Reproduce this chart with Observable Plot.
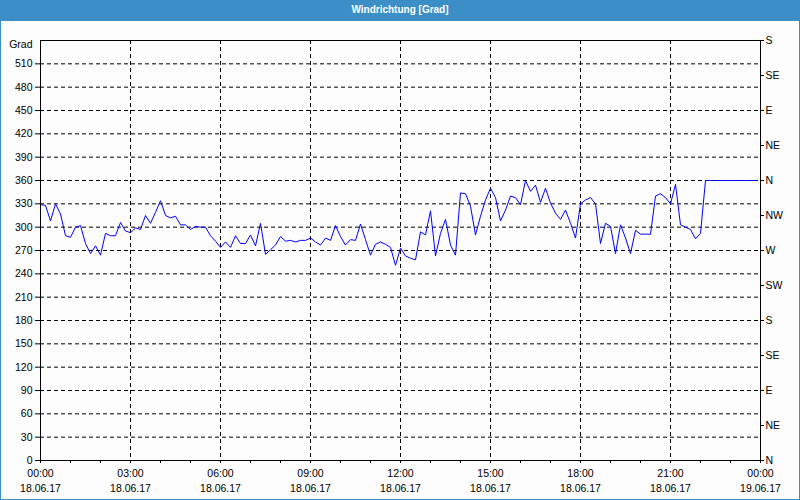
<!DOCTYPE html>
<html>
<head>
<meta charset="utf-8">
<script src="https://cdn.jsdelivr.net/npm/d3@7"></script>
<script src="https://cdn.jsdelivr.net/npm/@observablehq/plot@0.6"></script>
<style>
  html, body { margin: 0; padding: 0; background: #fcfdfc; }
  #wrap { position: relative; width: 800px; height: 500px; overflow: hidden; background: #fcfdfc; }
  #title { position: absolute; left: 0; top: 0; width: 800px; height: 21px; background: #3c8fc6; color: #fff;
    font: bold 10px "Liberation Sans Narrow", "Liberation Sans", sans-serif; text-align: center; line-height: 20px; }
  #chart { position: absolute; left: 0; top: 20px; }
  #border { position: absolute; left: 0; top: 20px; width: 800px; height: 480px; box-sizing: border-box;
    border: 1px solid #3c8fc6; border-top: none; pointer-events: none; }
  svg text { font-family: "Liberation Sans Narrow", "Liberation Sans", sans-serif; }
</style>
</head>
<body>
<div id="wrap">
  <div id="title">Windrichtung [Grad]</div>
  <div id="chart"></div>
  <div id="border"></div>
</div>
<script>
// Wind direction, 10-minute samples starting 18.06.17 00:00
const startTime = Date.UTC(2017, 5, 18, 0, 0);
const stepMinutes = 10;
const directionValues = [
  329,328,308,330,317,289,287,300,302,279,266,276,264,292,289,289,306,295,293,
  299,297,315,305,319,334,315,312,314,303,303,297,301,300,300,289,282,274,
  281,274,289,279,279,290,276,305,265,271,277,288,
  282,283,281,283,283,286,
  281,277,286,283,302,288,277,284,283,304,284,264,278,281,278,274,251,273,
  263,260,258,294,290,321,263,292,310,277,264,344,343,327,290,314,335,350,
  338,308,322,340,338,329,
  360,346,354,332,350,331,318,310,322,305,286,330,
  335,338,330,279,305,301,266,303,286,266,296,291,291,291,340,343,338,330,
  355,303,300,297,285,292,360,
  360,360,360,360,360,360,360,360,360,360
];
const leftTicks = [0,30,60,90,120,150,180,210,240,270,300,330,360,390,420,450,480,510,540];
const leftUnitLabel = "Grad";
const rightTicks = [0,45,90,135,180,225,270,315,360,405,450,495,540];
const rightLabels = ["N","NE","E","SE","S","SW","W","NW","N","NE","E","SE","S"];
const xTimeLabels = ["00:00","03:00","06:00","09:00","12:00","15:00","18:00","21:00","00:00"];
const xDateLabels = ["18.06.17","18.06.17","18.06.17","18.06.17","18.06.17","18.06.17","18.06.17","18.06.17","19.06.17"];

const data = directionValues.map((v, i) => ({t: new Date(startTime + i * stepMinutes * 60000), v}));
const xStart = new Date(startTime);
const xEnd = new Date(startTime + 24 * 3600000);
const majorTicks = d3.utcHour.every(3).range(xStart, new Date(+xEnd + 1));
const minorTicks = d3.utcHour.every(1).range(xStart, new Date(+xEnd + 1));
const idx = d => majorTicks.findIndex(m => +m === +d);

const chart = Plot.plot({
  width: 800,
  height: 480,
  marginTop: 20,
  marginBottom: 40,
  marginLeft: 40,
  marginRight: 40,
  style: {background: "transparent", fontSize: "10.5px", color: "#000"},
  x: {type: "utc", domain: [xStart, xEnd]},
  y: {domain: [0, 540]},
  marks: [
    Plot.ruleY(leftTicks.filter(d => d > 0 && d < 540), {stroke: "#000", strokeDasharray: "4,3", strokeWidth: 1}),
    Plot.ruleX(majorTicks.slice(1, -1), {stroke: "#000", strokeDasharray: "4,3", strokeWidth: 1}),
    Plot.line(data, {x: "t", y: "v", stroke: "#0000ff", strokeWidth: 1}),
    Plot.frame({stroke: "#000", strokeWidth: 1}),
    Plot.axisY({anchor: "left", ticks: leftTicks.filter(d => d < 540), tickSize: 5, tickPadding: 3, tickFormat: d => String(d), label: null}),
    Plot.axisY({anchor: "left", ticks: [540], tickSize: 0, tickPadding: 8, tickFormat: () => leftUnitLabel, dy: 4, label: null}),
    Plot.axisY({anchor: "right", ticks: rightTicks, tickSize: 3, tickPadding: 2, tickFormat: d => rightLabels[rightTicks.indexOf(d)], label: null}),
    Plot.axisX({anchor: "bottom", ticks: minorTicks, tickSize: 3, tickFormat: () => "", label: null}),
    Plot.axisX({anchor: "bottom", ticks: majorTicks, tickSize: 0, tickPadding: 9, tickFormat: d => xTimeLabels[idx(d)], label: null}),
    Plot.axisX({anchor: "bottom", ticks: majorTicks, tickSize: 0, tickPadding: 24, tickFormat: d => xDateLabels[idx(d)], label: null})
  ]
});
document.getElementById("chart").appendChild(chart);
</script>
</body>
</html>
